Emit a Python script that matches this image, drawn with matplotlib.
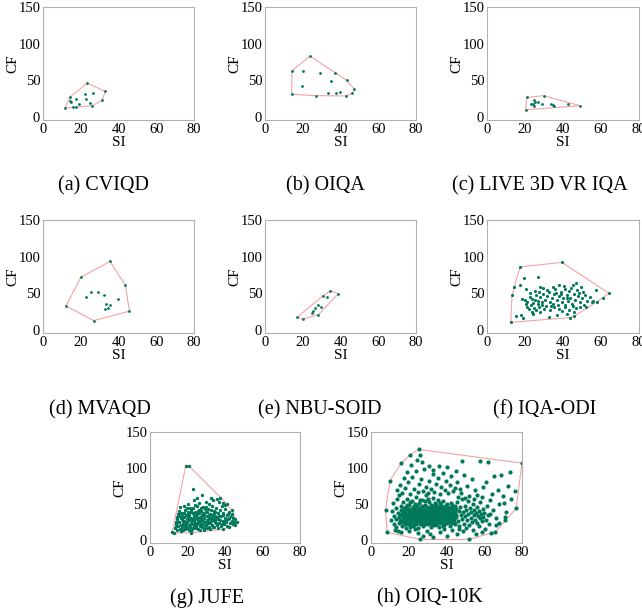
import numpy as np
import matplotlib.pyplot as plt

plt.rcParams['font.family'] = ['Liberation Serif', 'DejaVu Serif']

# (SI, CF) points
cviqd = [(11.7,12.3),(23.5,46.4),(32.9,35.0),(31.4,22.7),(25.8,15.5),(14.1,26.8),(14.1,21.4),(17.5,25.0),
         (16.1,13.6),(17.5,14.1),(19.1,17.3),(22.4,31.4),(22.8,24.5),(26.3,32.7),(24.7,19.0),(14.7,20.5)]

oiqa = [(14.3,63.0),(23.8,83.1),(20.3,63.0),(29.1,60.3),(37.0,59.8),(19.6,42.0),(35.2,49.3),(43.2,50.2),
        (47.2,38.4),(46.3,32.4),(43.0,28.8),(39.6,33.8),(33.3,33.3),(26.8,29.2),(14.1,31.0),(37.5,33.3)]

live3d = [(20.3,10.0),(20.9,26.8),(29.8,29.1),(49.0,15.5),(42.6,18.2),(22.9,17.3),(24.5,23.6),(24.7,15.5),
          (25.0,20.0),(26.6,20.9),(28.7,17.7),(33.5,17.3),(35.0,15.5),(34.5,16.4),(24.1,18.2)]

mvaqd = [(12.2,32.7),(20.0,71.9),(35.5,93.5),(43.6,61.3),(45.8,25.8),(26.9,12.9),(22.8,45.6),(25.6,52.5),
         (29.0,51.2),(32.3,47.9),(39.6,41.9),(33.6,35.0),(35.3,34.6),(32.7,28.1),(34.5,29.5)]

nbu = [(17.1,17.6),(19.9,14.8),(28.2,20.8),(38.9,49.5),(34.7,53.7),(30.5,46.3),(32.6,44.9),(28.0,34.7),
       (29.8,31.0),(26.3,30.6),(25.6,26.4),(24.8,23.1)]

iqaodi = [(12.5,10.6),(13.2,47.5),(14.4,59.0),(17.4,86.2),(39.5,92.2),(64.1,50.2),(61.1,44.2),(57.9,38.7),
          (45.8,18.9),(43.5,17.0),
          (19.7,71.4),(26.6,72.4),(17.3,61.3),(15.5,19.8),(19.2,16.6),(17.9,21.2),(32.4,17.5),(27.8,59.0),(29.4,56.7),(20.6,56.2),
          (18.5,43.0),(19.8,41.5),(21.3,38.0),(22.5,45.2),(23.1,33.5),(24.0,36.8),(24.6,29.5),(25.2,41.0),(25.9,47.5),(26.8,35.2),
          (27.3,31.0),(28.1,44.5),(28.9,38.2),(29.6,49.8),(30.4,40.6),(31.0,33.0),(31.8,45.8),(32.5,52.0),(33.3,38.5),(34.0,43.4),
          (34.7,36.1),(35.3,48.7),(36.0,55.3),(36.8,41.2),(37.4,33.6),(38.1,46.0),(38.7,52.4),(39.4,37.9),(40.0,43.8),(40.8,34.5),
          (41.3,56.0),(41.9,47.2),(42.6,39.8),(43.2,53.1),(43.9,44.0),(44.5,36.2),(45.1,62.0),(45.7,49.5),(46.3,41.3),(46.9,63.5),
          (47.5,55.0),(48.1,46.8),(48.7,38.0),(49.3,58.4),(49.9,43.5),(50.6,52.0),(51.2,34.2),(51.8,47.7),(52.5,40.1),(52.0,31.5),
          (54.0,45.0),(55.2,38.5),(57.5,55.0),(56.0,39.0),(21.0,32.0),(22.0,28.5),(23.5,25.0),(24.2,22.3),(26.0,26.8),(28.0,24.0),
          (30.0,28.2),(20.5,36.0),(23.8,42.0),(27.0,39.5),(33.0,28.0),(35.5,30.8),(37.9,29.0),(39.5,26.5),(41.0,31.0),(43.0,28.0),
          (45.0,33.0),(47.0,30.5),(49.0,32.0),(44.0,58.0),(40.5,60.5),(38.0,62.0),(36.5,50.0),(34.5,58.5),(31.5,54.0),(27.5,52.0),
          (25.0,53.5),(22.8,50.0),(46.0,24.0),(42.0,22.0),(37.0,20.5),(29.0,33.5),(33.8,33.0),(39.0,49.0),(42.0,44.0),(48.5,50.5)]

jufe = [(11.9,11.4),(12.8,10.0),(22.0,10.0),(38.8,15.0),(45.3,20.5),(46.4,24.5),(45.3,29.5),(43.6,41.8),
        (41.1,50.0),(21.0,102.3),(19.0,102.3),
        (13.5,16.2),(13.9,22.8),(14.3,13.4),(14.6,28.9),(15.0,19.1),(15.3,33.5),(15.7,24.7),(16.0,15.8),(16.4,30.2),(16.7,21.3),
        (17.1,37.6),(17.4,26.5),(17.8,13.9),(18.1,32.4),(18.5,18.7),(18.8,41.2),(19.2,23.9),(19.5,29.6),(19.9,16.5),(20.2,35.8),
        (20.6,20.4),(20.9,27.3),(21.3,44.6),(21.6,13.1),(22.0,31.0),(22.3,22.6),(22.7,38.3),(23.0,17.4),(23.4,26.2),(23.7,33.6),
        (24.1,48.9),(24.4,20.1),(24.8,29.4),(25.1,36.7),(25.5,15.3),(25.8,24.9),(26.2,42.1),(26.5,31.8),(26.9,19.0),(27.2,27.7),
        (27.6,35.2),(27.9,22.3),(28.3,45.5),(28.6,16.9),(29.0,30.6),(29.3,25.0),(29.7,39.4),(30.0,20.7),(30.4,33.1),(30.7,27.0),
        (31.1,43.8),(31.4,18.3),(31.8,36.0),(32.1,24.2),(32.5,30.9),(32.8,48.0),(33.2,21.5),(33.5,27.9),(33.9,40.6),(34.2,17.7),
        (34.6,33.4),(34.9,25.6),(35.3,45.0),(35.6,21.0),(36.0,37.3),(36.3,29.2),(36.7,52.6),(37.0,23.4),(37.4,41.5),(37.7,19.2),
        (38.1,32.8),(38.4,47.3),(38.8,26.1),(39.1,37.8),(39.5,21.9),(39.8,30.2),(40.2,43.4),(40.5,25.3),(40.9,34.6),(41.3,20.2),
        (41.7,29.0),(42.1,39.0),(42.6,23.1),(43.0,33.2),(43.5,26.9),(44.0,22.0),(44.5,30.5),(45.0,25.1),(42.0,18.6),(36.5,16.4),
        (14.8,36.5),(15.5,41.0),(16.2,46.3),(17.0,18.0),(17.6,23.0),(18.3,27.2),(18.9,21.0),(19.7,25.8),(20.4,31.7),(21.1,18.1),
        (21.8,24.0),(22.5,28.3),(23.2,21.6),(23.9,24.3),(24.6,33.0),(25.3,22.5),(26.0,27.2),(26.7,23.5),(27.4,31.2),(28.1,25.9),
        (28.8,34.3),(29.5,21.6),(30.2,28.6),(30.9,23.7),(31.6,31.0),(32.3,27.1),(33.0,35.0),(33.7,30.4),(34.4,28.0),(35.1,32.7),
        (19.0,34.6),(20.0,38.8),(21.0,35.2),(22.1,41.8),(23.1,45.2),(24.2,38.7),(25.2,46.8),(26.3,37.5),(27.3,40.4),(28.4,38.0),
        (29.4,43.0),(30.5,38.6),(31.5,50.4),(32.6,41.3),(33.6,55.0),(34.7,39.5),(35.7,57.0),(37.5,58.2),(32.7,58.2),(27.6,62.3),
        (22.8,71.4),(29.8,53.4),(26.0,51.2),(23.4,55.6),(20.5,50.0),(18.0,47.7),(24.9,58.8),(30.0,46.6),(38.7,52.0),(40.0,48.5),
        (14.1,19.7),(15.2,25.5),(16.6,13.0),(17.3,29.1),(18.6,15.5),(19.4,19.4),(20.8,14.5),(21.5,28.8),(22.4,16.0),(23.6,29.5),
        (24.5,17.2),(25.6,30.0),(26.8,14.6),(27.7,18.4),(28.9,13.8),(30.3,16.2),(31.9,14.8),(33.4,18.5),(35.2,24.4),(37.2,27.6),
        (38.2,22.7),(39.4,24.6),(40.7,27.9),(42.3,30.4),(43.8,36.0),(41.4,36.5),(39.0,35.5),(36.8,33.6),(34.0,37.0),(31.2,34.6),
        (13.7,25.3),(14.5,31.8),(15.9,37.9),(16.9,34.0),(18.2,38.2),(19.8,43.9),(21.7,39.6),(23.5,35.5),(25.4,40.5),(27.1,44.2)]

oiq10k = [(8.5,10.9),(7.7,42.3),(10.1,82.7),(16.0,106.8),(20.7,118.2),(25.2,125.9),(80.0,106.8),(76.9,44.1),
          (71.0,27.7),(65.9,11.4),(63.4,10.0),(51.9,0.9),(26.1,0.9),
          # core
          (15.3,28.4),(15.9,41.2),(16.2,19.5),(16.8,33.7),(17.1,52.3),(17.5,24.6),(17.9,38.9),(18.3,16.8),(18.6,45.5),(18.9,30.1),
          (19.2,57.2),(19.6,22.7),(19.9,35.8),(20.3,48.1),(20.6,27.4),(20.9,18.2),(21.2,41.9),(21.5,31.6),(21.8,54.7),(22.1,24.9),
          (22.4,37.3),(22.7,46.8),(23.0,20.5),(23.3,29.9),(23.6,59.4),(23.9,34.2),(24.2,43.6),(24.5,26.1),(24.8,16.4),(25.1,38.7),
          (25.4,51.2),(25.7,31.3),(26.0,22.8),(26.3,45.9),(26.6,35.5),(26.9,28.0),(27.2,56.3),(27.5,40.4),(27.8,19.3),(28.1,33.1),
          (28.4,48.7),(28.7,25.5),(29.0,37.8),(29.3,62.1),(29.6,29.4),(29.9,43.2),(30.2,21.7),(30.5,35.0),(30.8,52.8),(31.1,27.6),
          (31.4,40.9),(31.7,17.9),(32.0,46.3),(32.3,32.5),(32.6,58.0),(32.9,24.3),(33.2,38.1),(33.5,44.7),(33.8,29.2),(34.1,20.4),
          (34.4,50.5),(34.7,34.8),(35.0,41.4),(35.3,26.7),(35.6,55.6),(35.9,31.9),(36.2,18.6),(36.5,47.4),(36.8,37.0),(37.1,23.5),
          (37.4,42.6),(37.7,29.8),(38.0,53.6),(38.3,35.7),(38.6,21.1),(38.9,45.1),(39.2,32.4),(39.5,27.2),(39.8,39.6),(40.1,49.9),
          (40.4,24.0),(40.7,36.3),(41.0,30.5),(41.3,44.0),(41.6,19.8),(41.9,33.9),(42.2,51.7),(42.5,27.9),(42.8,40.2),(43.1,23.1),
          (43.4,35.4),(43.7,46.6),(44.0,29.0),(44.3,38.5),(44.6,21.9),(44.9,43.3),
          (15.6,35.1),(16.0,47.6),(16.5,25.8),(17.0,39.4),(17.4,30.7),(17.7,44.8),(18.0,21.9),(18.4,36.2),(18.8,26.5),(19.1,49.3),
          (19.5,33.1),(19.8,28.7),(20.2,39.8),(20.5,22.1),(20.8,52.6),(21.1,35.4),(21.4,25.3),(21.7,44.1),(22.0,30.4),(22.3,19.6),
          (22.6,40.9),(22.9,33.8),(23.2,50.7),(23.5,27.2),(23.8,38.0),(24.1,22.5),(24.4,47.2),(24.7,32.7),(25.0,29.1),(25.3,42.4),
          (25.6,36.6),(25.9,55.1),(26.2,25.0),(26.5,39.7),(26.8,31.9),(27.1,47.9),(27.4,23.6),(27.7,35.1),(28.0,42.0),(28.3,29.0),
          (28.6,53.9),(28.9,33.4),(29.2,24.4),(29.5,46.0),(29.8,38.3),(30.1,30.6),(30.4,57.7),(30.7,41.8),(31.0,23.2),(31.3,35.9),
          (31.6,49.1),(31.9,28.4),(32.2,39.1),(32.5,20.9),(32.8,44.2),(33.1,33.3),(33.4,26.0),(33.7,52.1),(34.0,37.6),(34.3,30.0),
          (34.6,45.8),(34.9,22.6),(35.2,36.7),(35.5,28.1),(35.8,43.7),(36.1,33.0),(36.4,51.3),(36.7,25.7),(37.0,39.3),(37.3,31.1),
          (37.6,46.9),(37.9,20.0),(38.2,37.2),(38.5,28.6),(38.8,42.3),(39.1,24.8),(39.4,35.0),(39.7,48.5),(40.0,30.0),(40.3,40.7),
          (40.6,26.3),(40.9,45.6),(41.2,33.0),(41.5,38.9),(41.8,24.5),(42.1,44.6),(42.4,31.4),(42.7,36.0),(43.0,49.2),(43.3,27.0),
          (43.6,41.5),(43.9,32.6),(44.2,25.8),(44.5,47.0),(44.8,34.6),
          (20.4,30.8),(21.0,27.0),(21.9,33.5),(22.5,26.8),(23.1,42.9),(23.7,31.0),(24.3,37.1),(24.9,27.8),(25.5,33.9),(26.1,43.0),
          (26.7,29.5),(27.3,37.0),(27.9,26.4),(28.5,40.8),(29.1,31.6),(29.7,34.9),(30.3,26.9),(30.9,38.0),(31.5,31.4),(32.1,42.8),
          (32.7,35.3),(33.3,28.9),(33.9,41.3),(34.5,31.3),(35.1,38.4),(35.7,24.7),(36.3,40.0),(36.9,29.6),(37.5,35.6),(38.1,26.6),
          (38.7,32.3),(39.3,43.0),(39.9,36.4),(21.4,38.3),(22.8,23.9),(24.6,41.2),(25.8,24.3),(27.6,44.6),(28.8,22.6),(30.6,44.9),
          (31.8,25.4),(33.6,47.0),(34.8,27.4),(36.0,45.4),(37.2,27.3),(38.4,39.7),(39.6,29.7),(16.7,29.9),(17.6,34.8),(18.5,31.5),
          (19.3,24.0),(19.7,43.1),(18.1,40.5),(16.3,38.0),(15.0,32.5),(14.6,24.2),(14.1,37.6),(13.5,29.3),(13.0,45.0),(12.4,33.8),
          (12.0,22.0),(11.3,40.2),(10.8,28.5),(11.9,52.0),(13.8,56.5),(14.9,63.0),(13.2,18.0),(12.7,14.5),(14.4,12.3),(16.1,10.8),
          # right of core
          (45.2,31.5),(45.6,52.4),(46.0,26.8),(46.4,40.6),(46.8,19.7),(47.2,45.3),(47.6,34.2),(48.0,57.0),(48.4,29.3),(48.8,38.8),
          (49.2,23.0),(49.6,48.0),(50.0,33.6),(50.4,41.7),(50.8,27.5),(51.2,54.0),(51.6,36.5),(52.0,20.8),(52.4,44.9),(52.8,31.0),
          (53.2,39.3),(53.6,25.2),(54.0,50.2),(54.4,34.9),(54.8,42.4),(55.2,28.3),(55.6,37.5),(56.0,46.5),(56.4,23.8),(56.8,33.3),
          (57.2,40.5),(57.6,30.1),(58.0,52.9),(58.4,36.4),(58.8,26.2),(59.2,43.6),(59.6,32.0),(60.1,38.2),(60.7,28.0),(61.3,46.8),
          (61.9,34.5),(62.5,22.5),(45.9,60.3),(47.9,64.8),(49.9,58.7),(52.1,61.6),(54.5,57.4),(56.3,62.9),(58.6,59.2),(46.5,15.6),
          (50.3,17.4),(53.9,14.3),(57.4,18.9),(60.4,16.0),
          # upper
          (16.5,66.0),(18.2,72.5),(19.6,80.3),(20.8,64.4),(21.7,88.0),(22.9,70.8),(23.9,95.6),(24.7,66.9),(25.6,77.4),(26.5,85.2),
          (27.4,68.1),(28.2,99.0),(29.1,74.3),(30.0,65.6),(30.9,81.9),(31.8,71.2),(32.7,91.4),(33.6,67.3),(34.5,78.5),(35.4,86.3),
          (36.3,63.6),(37.2,73.7),(38.1,93.8),(39.0,69.5),(39.9,82.6),(40.8,64.9),(41.7,76.0),(42.6,88.9),(43.5,67.8),(44.4,72.9),
          (45.5,80.8),(47.3,70.4),(49.1,90.2),(51.0,75.6),(53.3,84.7),(55.0,68.9),(21.2,104.0),(24.2,110.5),(27.0,108.0),(30.5,102.2),
          (35.8,103.4),(40.2,101.0),(19.0,95.0),(17.3,86.0),(15.2,76.0),(13.6,70.0),(26.0,118.0),(33.0,97.0),(44.9,96.5),(48.0,110.0),
          # sparse right
          (62.8,55.8),(63.9,63.4),(64.6,42.1),(65.4,88.4),(66.3,30.7),(67.2,70.2),(68.0,49.6),(69.1,91.0),(70.0,61.5),(71.3,38.9),
          (72.4,75.5),(73.5,95.0),(74.1,57.7),(70.8,31.5),(76.2,68.0),(62.2,108.7),(58.0,110.0),(66.0,20.4),(59.5,73.0),(61.0,81.0),
          (63.1,36.2),(70.6,52.0),(67.7,24.0),
          # low
          (20.0,12.5),(25.0,9.5),(29.5,13.0),(33.0,4.8),(36.8,11.2),(40.5,6.0),(42.9,14.1),(45.8,9.0),(48.6,12.8),(55.5,8.5),
          (58.9,11.0),(23.1,14.8),(31.2,8.2),(38.9,15.0),(27.3,5.5)]

captions = ['(a) CVIQD', '(b) OIQA', '(c) LIVE 3D VR IQA', '(d) MVAQD', '(e) NBU-SOID',
            '(f) IQA-ODI', '(g) JUFE', '(h) OIQ-10K']
datasets = [cviqd, oiqa, live3d, mvaqd, nbu, iqaodi, jufe, oiq10k]


def hull(pts):
    # monotone chain convex hull
    p = sorted(set(map(tuple, pts)))
    def cross(o, a, b):
        return (a[0]-o[0])*(b[1]-o[1]) - (a[1]-o[1])*(b[0]-o[0])
    lower, upper = [], []
    for q in p:
        while len(lower) >= 2 and cross(lower[-2], lower[-1], q) <= 0:
            lower.pop()
        lower.append(q)
    for q in reversed(p):
        while len(upper) >= 2 and cross(upper[-2], upper[-1], q) <= 0:
            upper.pop()
        upper.append(q)
    h = lower[:-1] + upper[:-1]
    return np.array(h + [h[0]])


W, H = 642, 616
fig = plt.figure(figsize=(W/100, H/100), dpi=100)

# axes boxes in pixels: left, right, top, bottom
boxes = [(43, 194, 7, 120), (265, 416, 7, 120), (487, 639, 7, 120),
         (43, 194, 220, 333), (265, 416, 220, 333), (487, 639, 220, 333),
         (150, 300, 432, 543), (371, 522, 432, 543)]
cap_pos = [(103, 186), (325, 186), (540, 186), (100, 410), (320, 410), (545, 410), (207, 598), (430, 598)]
marker_size = [4, 4, 4, 4, 4, 5, 6, 9]

for i, (pts, (l, r, t, b)) in enumerate(zip(datasets, boxes)):
    ax = fig.add_axes([l/W, 1-b/H, (r-l)/W, (b-t)/H])
    pts = np.array(pts)
    hl = hull(pts)
    ax.plot(hl[:, 0], hl[:, 1], color='#f4a3a3', lw=0.8, zorder=1)
    ax.scatter(pts[:, 0], pts[:, 1], s=marker_size[i], color='#00785a', lw=0, zorder=2)
    ax.set_xlim(0, 80)
    ax.set_ylim(-4, 150)
    ax.set_xticks([0, 20, 40, 60, 80])
    ax.set_yticks([0, 50, 100, 150])
    ax.tick_params(length=0, pad=2, labelsize=10.5)
    for sp in ax.spines.values():
        sp.set_color('#b0b0b0')
        sp.set_linewidth(0.8)
    ax.set_xlabel('SI', fontsize=11, labelpad=0)
    ax.set_ylabel('CF', fontsize=11, labelpad=-1)
    cx, cy = cap_pos[i]
    fig.text(cx/W, 1-cy/H, captions[i], fontsize=14.5, ha='center', va='center')

fig.savefig('out.png', dpi=100)
